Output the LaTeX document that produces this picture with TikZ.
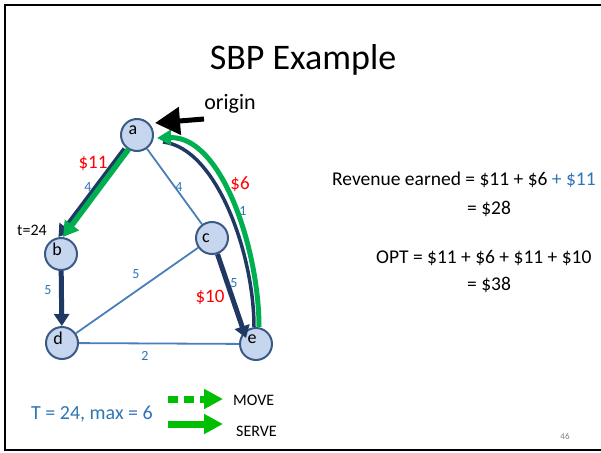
\documentclass[tikz,border=0pt]{standalone}
\usepackage{fontspec}
\setmainfont{Carlito}
\usetikzlibrary{arrows.meta,positioning}
\definecolor{navy}{HTML}{1F3864}
\definecolor{edgeblue}{HTML}{4A7EBB}
\definecolor{wblue}{HTML}{2E75B6}
\definecolor{vfill}{HTML}{C6D6EE}
\definecolor{vline}{HTML}{3A5A85}
\definecolor{pathgreen}{HTML}{00B050}
\definecolor{leggreen}{HTML}{00BE00}
\newcommand{\fsz}[1]{\fontsize{#1}{#1}\selectfont}

\begin{document}
\begin{tikzpicture}[x=1pt,y=-1pt,
  vert/.style={circle,draw=vline,line width=2pt,fill=vfill,minimum size=32pt,inner sep=0pt},
  vlab/.style={font=\fsz{18},inner sep=0pt,xshift=-4pt,yshift=5pt},
  edge/.style={draw=edgeblue,line width=1.8pt},
  hop/.style={draw=navy,line width=5pt,-{Triangle[length=12pt,width=15pt]}},
  serve/.style={draw=pathgreen,line width=5.5pt,-{Triangle[length=15pt,width=17pt]}},
  wt/.style={text=wblue,font=\fsz{14}},
  pay/.style={text=red,font=\fsz{19}},
  txt/.style={font=\fsz{19.5},anchor=west,inner sep=0pt},
  legarrow/.style={draw=leggreen,line width=7pt,-{Triangle[length=19pt,width=19pt]}}]
\useasboundingbox (0,0) rectangle (601,452);
\draw[line width=2.5pt] (603,5) -- (5,5) -- (5,450) -- (603,450);

\node[font=\fsz{36}] (title) at (303,60) {SBP Example};

% graph
\node[vert,label={[vlab]center:a}] (a) at (137,135) {};
\node[vert,label={[vlab]center:b}] (b) at (61,254) {};
\node[vert,label={[vlab,yshift=-5pt,xshift=-2pt]center:c}] (c) at (212,238) {};
\node[vert,label={[vlab]center:d}] (d) at (62,343) {};
\node[vert,label={[vlab]center:e}] (e) at (256,344) {};

\path[edge] (a) -- (c);
\path[edge] (c) -- (d);
\path[edge] (d) -- (e);

\draw[hop] ([xshift=-2.5pt]a.-125) -- ([xshift=-2.5pt]b.north);
\draw[serve] ([xshift=1.5pt]a.-125) -- ([xshift=2pt]b.north);
\draw[hop] (b) -- (d);
\draw[hop] (c) -- ([shift={(-10,-6)}]e.center);

\draw[navy,line width=3.5pt] ([xshift=-2pt]e.north) .. controls +(0,-72) and +(54,6) .. ([shift={(9,7)}]a.east);
\draw[serve,line width=5pt,-{Triangle[length=14pt,width=15pt]}] ([xshift=3pt]e.north) .. controls +(0,-77) and +(65,-2) .. ([shift={(3,3)}]a.east);

% labels
\node[pay] (p1) at (93,163) {\$11};
\node[wt] (w1) at (88,187) {4};
\node[wt] (w2) at (179,187) {4};
\node[pay] (p2) at (240,184) {\$6};
\node[wt] (w3) at (243,211) {1};
\node[wt] (w4) at (136,274) {5};
\node[wt] (w5) at (48,290) {5};
\node[pay] (p3) at (210,297) {\$10};
\node[wt] (w6) at (234,283) {5};
\node[wt] (w7) at (145,356) {2};
\node[font=\fsz{16}] (tb) at (32,230) {t=24};

% origin pointer
\node[font=\fsz{22}] (orig) at (230,104) {origin};
\coordinate (otail) at (204,119);
\draw[line width=5pt,-{Triangle[length=25pt,width=27pt]}] (otail) -- ([xshift=6pt]a.north east);

% revenue
\node[txt] (rev) at (332,180) {Revenue earned = \$11 + \$6 \textcolor{wblue}{+ \$11}};
\node[txt] (rev2) at (467,209) {= \$28};
\node[txt] (opt) at (376,258) {OPT = \$11 + \$6 + \$11 + \$10};
\node[txt] (opt2) at (467,285) {= \$38};

% legend
\node[text=wblue,font=\fsz{20}] (tmax) at (92,414) {T = 24, max = 6};
\node[font=\fsz{16},anchor=west,inner sep=0pt] (mv) at (233,400) {MOVE};
\node[font=\fsz{16},anchor=west,inner sep=0pt] (sv) at (236,431) {SERVE};
\coordinate (mvtail) at (168,399);
\coordinate (svtail) at (168,424);
\draw[legarrow,dash pattern=on 10pt off 6pt] (mvtail) -- ([xshift=-10pt,yshift=1pt]mv.west);
\draw[legarrow] (svtail) -- (223,424);

\node[text=gray,font=\fsz{9}] (pg) at (565,436) {46};
\end{tikzpicture}
\end{document}
